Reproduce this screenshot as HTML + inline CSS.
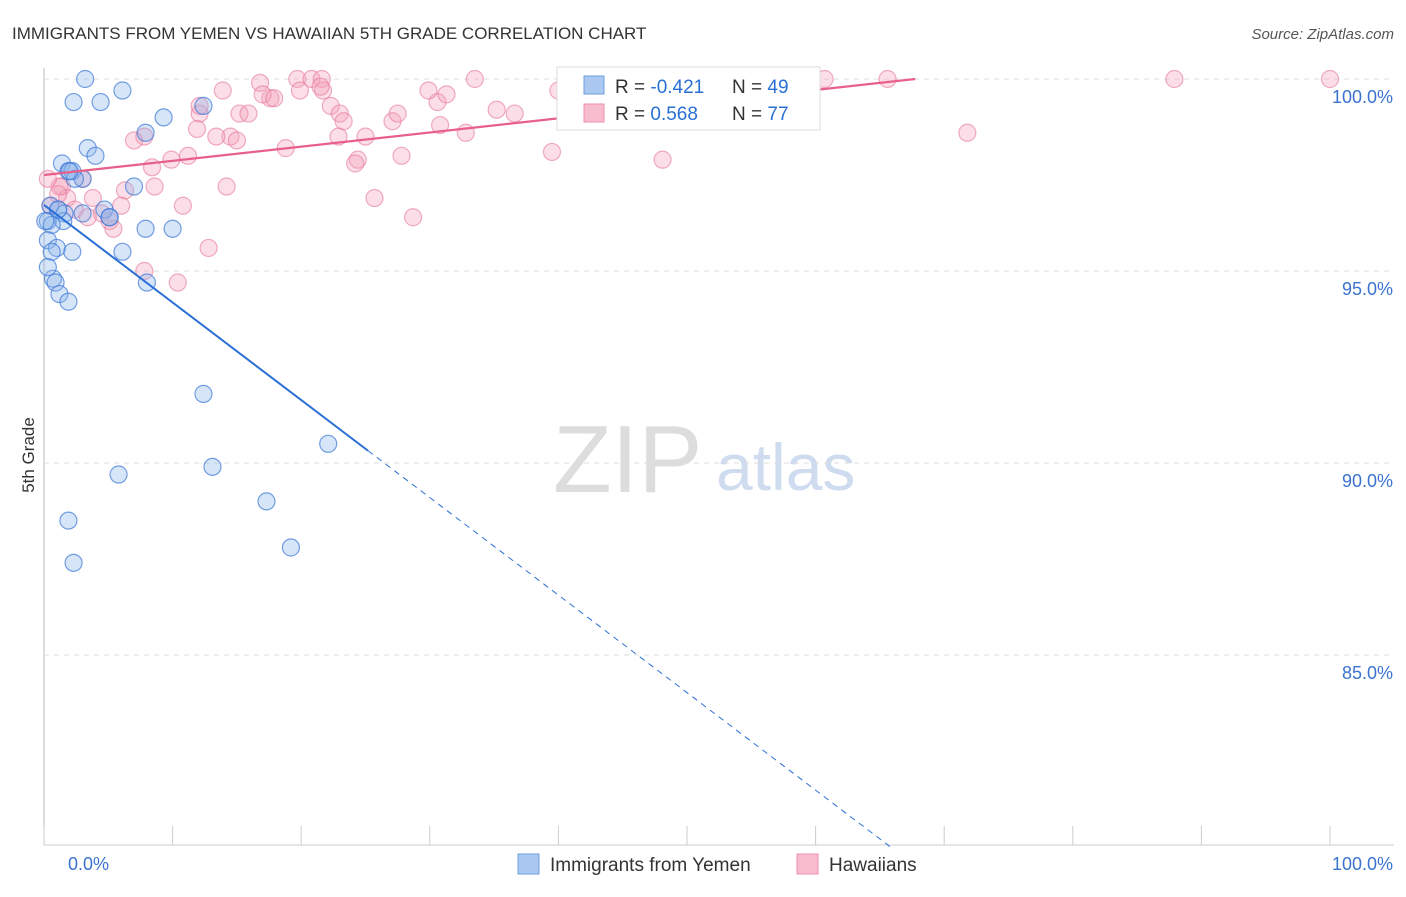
<!DOCTYPE html>
<html><head><meta charset="utf-8"><style>
body{margin:0;background:#fff;font-family:"Liberation Sans",sans-serif;}
svg text{font-family:"Liberation Sans",sans-serif;}
</style></head><body>
<svg id="c" width="1406" height="892" xmlns="http://www.w3.org/2000/svg">
<text x="12" y="39" font-size="17" fill="#333">IMMIGRANTS FROM YEMEN VS HAWAIIAN 5TH GRADE CORRELATION CHART</text>
<text x="1394" y="39" font-size="15" fill="#555" text-anchor="end" font-style="italic">Source: ZipAtlas.com</text>
<text x="34" y="455" font-size="17" fill="#333" text-anchor="middle" transform="rotate(-90 34 455)">5th Grade</text>
<text x="553" y="492" font-size="96" fill="#ddd" font-family="Liberation Serif">ZIP</text>
<text x="716" y="490" font-size="66" fill="#cfdcef">atlas</text>
<g id="grid"></g><g id="pts"></g><g id="lines"></g>
<g>
<rect x="557" y="67" width="263" height="63" fill="#fff" stroke="#ddd"/>
<rect x="584" y="76" width="20" height="18" fill="#aac8f0" stroke="#6f9ee0"/>
<rect x="584" y="104" width="20" height="18" fill="#f7bccd" stroke="#ee8fab"/>
<text x="615" y="93" font-size="19" fill="#333">R = <tspan fill="#2a6fd6">-0.421</tspan></text>
<text x="732" y="93" font-size="19" fill="#333">N = <tspan fill="#2a6fd6">49</tspan></text>
<text x="615" y="120" font-size="19" fill="#333">R = <tspan fill="#2a6fd6"> 0.568</tspan></text>
<text x="732" y="120" font-size="19" fill="#333">N = <tspan fill="#2a6fd6">77</tspan></text>
</g>
<g>
<rect x="518" y="854" width="21" height="20" fill="#aac8f0" stroke="#6f9ee0"/>
<text x="550" y="871" font-size="19" fill="#333">Immigrants from Yemen</text>
<rect x="797" y="854" width="21" height="20" fill="#f7bccd" stroke="#ee8fab"/>
<text x="829" y="871" font-size="19" fill="#333">Hawaiians</text>
</g>
</svg>
<script>
const yTicks=[100,95,90,85];
const xTickVals=[0,10,20,30,40,50,60,70,80,90,100];
const blueX=[3.2,2.3,4.4,6.1,9.3,12.4,7.9,3.4,4.0,1.4,1.9,2.2,3.0,2.4,7.0,0.5,1.1,1.6,0.3,4.7,3.0,5.1,1.5,0.6,7.9,10.0,0.3,1.0,2.2,0.6,6.1,0.7,0.9,1.2,1.9,8.0,12.4,22.1,13.1,5.8,17.3,1.9,19.2,2.3,0.3,1.1,2.0,5.1,0.1];
const blueY=[100,99.4,99.4,99.7,99.0,99.3,98.6,98.2,98.0,97.8,97.6,97.6,97.4,97.4,97.2,96.7,96.6,96.5,96.3,96.6,96.5,96.4,96.3,96.2,96.1,96.1,95.8,95.6,95.5,95.5,95.5,94.8,94.7,94.4,94.2,94.7,91.8,90.5,89.9,89.7,89.0,88.5,87.8,87.4,95.1,96.6,97.6,96.4,96.3];
const pinkX=[13.9,16.8,19.7,20.8,21.6,17.6,15.2,15.9,12.1,21.7,22.3,23.0,23.3,19.9,21.5,17.0,17.9,14.5,15.0,13.4,11.9,7.8,7.0,18.8,22.9,27.1,25.0,27.8,24.4,24.2,30.8,30.6,29.9,31.3,33.5,35.2,36.6,32.8,39.5,40.0,44.0,48.1,49.8,51.8,60.7,65.6,71.8,87.9,100,11.2,9.9,8.4,8.6,6.3,14.2,10.8,6.0,3.8,4.5,5.1,5.4,3.0,1.4,1.8,1.2,0.5,1.1,0.3,2.4,3.4,25.7,28.7,12.8,7.8,10.4,12.1,27.5];
const pinkY=[99.7,99.9,100,100,100,99.5,99.1,99.1,99.1,99.7,99.3,99.1,98.9,99.7,99.8,99.6,99.5,98.5,98.4,98.5,98.7,98.5,98.4,98.2,98.5,98.9,98.5,98.0,97.9,97.8,98.8,99.4,99.7,99.6,100,99.2,99.1,98.6,98.1,99.7,100,97.9,100,100,100,100,98.6,100,100,98.0,97.9,97.7,97.2,97.1,97.2,96.7,96.7,96.9,96.5,96.3,96.1,97.4,97.2,96.9,97.2,96.7,97.0,97.4,96.6,96.4,96.9,96.4,95.6,95.0,94.7,99.3,99.1];
const blueTrend=[96.72,-0.254];
const pinkTrend=[97.5,0.0369];
const X=v=>44+v*12.86, Y=v=>79+(100-v)*38.4;
const NS='http://www.w3.org/2000/svg';
function mk(t,a,p){const e=document.createElementNS(NS,t);for(const k in a)e.setAttribute(k,a[k]);p.appendChild(e);return e;}
const grid=document.getElementById('grid');
mk('line',{x1:44,y1:68,x2:44,y2:845,stroke:'#bbb'},grid);
mk('line',{x1:44,y1:845,x2:1394,y2:845,stroke:'#ccc'},grid);
yTicks.forEach(v=>{
 const l=mk('line',{x1:44,y1:Y(v),x2:1394,y2:Y(v),stroke:'#ddd','stroke-dasharray':'5,5'},grid);
 
 
 const t=mk('text',{x:1393,y:Y(v)+24,'font-size':18,fill:'#3b73d0','text-anchor':'end'},grid);
 t.textContent=v.toFixed(1)+'%';
 
 
});
xTickVals.forEach(v=>{
 const l=mk('line',{x1:X(v),y1:826,x2:X(v),y2:845,stroke:'#ccc'},grid);
 
 
});
[[0,68,'start'],[100,1393,'end']].forEach(([v,x,a])=>{
 const t=mk('text',{x:x,y:870,'font-size':18,fill:'#3b73d0','text-anchor':a},grid);
 t.textContent=v.toFixed(1)+'%';
 
 
});
const pts=document.getElementById('pts');
pinkX.forEach((x,i)=>{
 const c=mk('circle',{cx:X(x),cy:Y(pinkY[i]),r:8.5,fill:'rgba(244,160,185,0.35)',stroke:'rgba(230,120,155,0.6)','stroke-width':1.2},pts);
 
 
});
blueX.forEach((x,i)=>{
 const c=mk('circle',{cx:X(x),cy:Y(blueY[i]),r:8.5,fill:'rgba(140,180,235,0.35)',stroke:'rgba(60,120,215,0.7)','stroke-width':1.2},pts);
 
 
});
const ln=document.getElementById('lines');
const bf=x=>blueTrend[0]+blueTrend[1]*x, pf=x=>pinkTrend[0]+pinkTrend[1]*x;
let l1=mk('line',{x1:X(0),y1:Y(bf(0)),x2:X(25.2),y2:Y(bf(25.2)),stroke:'#2a6fd6','stroke-width':2},ln);


const xEnd=(80-blueTrend[0])/blueTrend[1];
let l2=mk('line',{x1:X(25.2),y1:Y(bf(25.2)),x2:X(xEnd),y2:Y(80),stroke:'#2a6fd6','stroke-width':1,'stroke-dasharray':'6,5'},ln);


const pEnd=(100-pinkTrend[0])/pinkTrend[1];
let l3=mk('line',{x1:X(0),y1:Y(pf(0)),x2:X(pEnd),y2:Y(100),stroke:'#e8608a','stroke-width':2.2},ln);


</script>
</body></html>
